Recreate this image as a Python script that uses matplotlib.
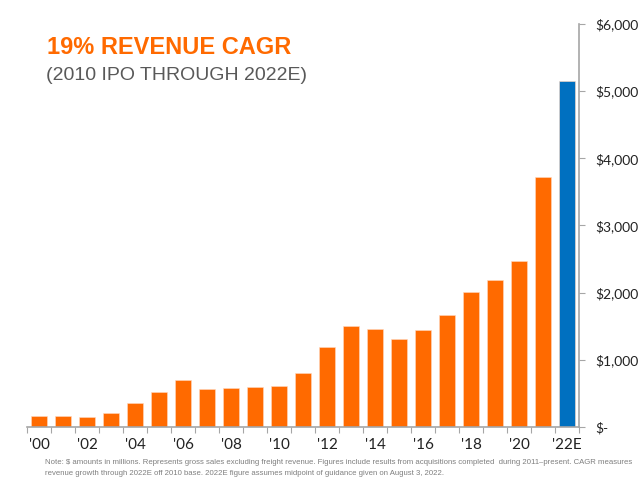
import matplotlib
matplotlib.use("Agg")
import matplotlib.pyplot as plt
from matplotlib.ticker import FixedLocator, FuncFormatter

# revenue in $ millions
years = ["'00", "'01", "'02", "'03", "'04", "'05", "'06", "'07", "'08", "'09", "'10", "'11",
         "'12", "'13", "'14", "'15", "'16", "'17", "'18", "'19", "'20", "'21", "'22E"]
revenue = [168, 160, 150, 213, 357, 525, 694, 560, 580, 594, 605, 807,
           1189, 1505, 1452, 1307, 1437, 1669, 2006, 2195, 2471, 3725, 5150]
yticks = [0, 1000, 2000, 3000, 4000, 5000, 6000]

ORANGE = "#FF6A00"
BLUE = "#0070C0"
GRAY = "#A6A6A6"

fig = plt.figure(figsize=(6.4, 4.94), dpi=100)
ax = fig.add_axes([27 / 640, 1 - 427 / 494, 552 / 640, 403 / 494])

colors = [ORANGE] * (len(years) - 1) + [BLUE]
x = list(range(len(years)))
ax.bar(x, revenue, width=0.67, color=colors, edgecolor="#FFD9C0", linewidth=0.4)

ax.set_xlim(-0.5, len(years) - 0.5)
ax.set_ylim(0, 6000)

# y axis on the right
ax.yaxis.tick_right()
ax.yaxis.set_major_locator(FixedLocator(yticks))
ax.yaxis.set_major_formatter(FuncFormatter(lambda v, p: "$-" if v == 0 else f"${v:,.0f}"))
ax.tick_params(axis="y", direction="out", length=4, color=GRAY, pad=8,
               labelsize=10, labelcolor="#222222")
for lbl in ax.get_yticklabels():
    lbl.set_fontfamily("Lato")
    lbl.set_horizontalalignment("left")

# x ticks at category boundaries, labels every other year
ax.set_xticks([i - 0.5 for i in range(len(years) + 1)], minor=False)
ax.set_xticklabels([])
ax.set_xticks(x[::2], minor=True)
ax.set_xticklabels(years[::2], minor=True, fontfamily="Lato", fontsize=11, color="#222222")
ax.tick_params(axis="x", which="major", direction="out", length=4, color=GRAY)
ax.tick_params(axis="x", which="minor", length=0, pad=8)

for side in ["top", "left"]:
    ax.spines[side].set_visible(False)
ax.spines["right"].set_color(GRAY)
ax.spines["bottom"].set_color(GRAY)
ax.spines["right"].set_linewidth(1.2)
ax.spines["bottom"].set_linewidth(1.2)

fig.text(47 / 640, 1 - 48 / 494, "19% REVENUE CAGR", fontsize=17, fontweight="bold",
         color=ORANGE, family="Liberation Sans", va="center", ha="left")
fig.text(46 / 640, 1 - 75 / 494, "(2010 IPO THROUGH 2022E)", fontsize=14,
         color="#595959", family="Liberation Sans", va="center", ha="left")

note = ("Note: $ amounts in millions. Represents gross sales excluding freight revenue. Figures include results "
        "from acquisitions completed  during 2011\u2013present. CAGR measures\n"
        "revenue growth through 2022E off 2010 base. 2022E figure assumes midpoint of guidance given on August 3, 2022.")
fig.text(45 / 640, 1 - 468 / 494, note, fontsize=5.6, color="#7F7F7F",
         family="Liberation Sans", va="center", ha="left", linespacing=1.75)

fig.savefig("out.png", dpi=100, facecolor="white")
